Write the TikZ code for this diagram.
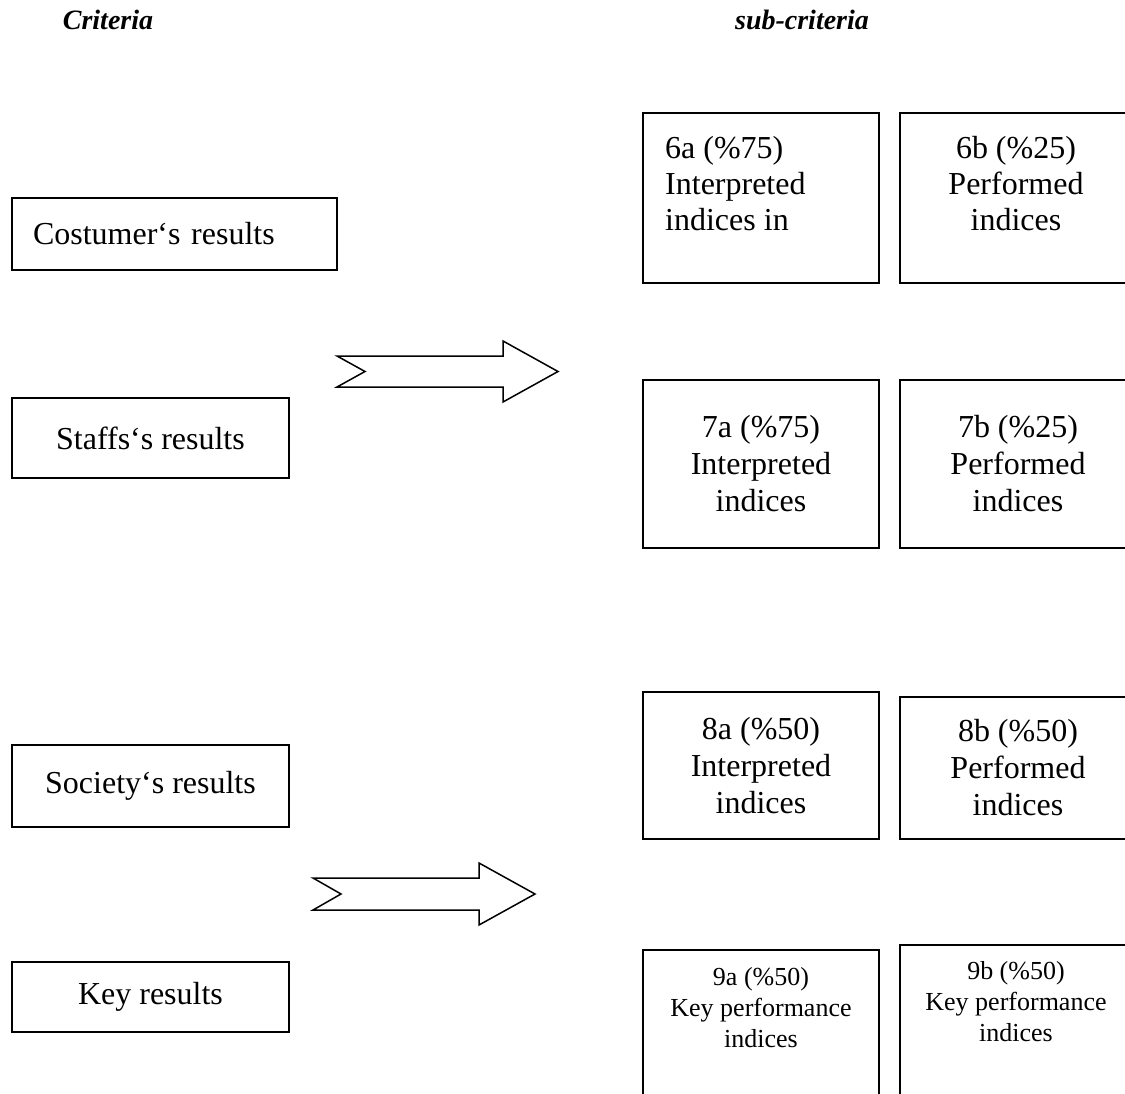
\documentclass[tikz,border=0pt]{standalone}
\usepackage{fontspec}
\setmainfont{Liberation Serif}
\usetikzlibrary{positioning}
\tikzset{
  critbox/.style={draw=black, line width=1.5pt, minimum width=277pt, align=center, font=\fontsize{32}{37}\selectfont},
  subbox/.style={draw=black, line width=1.5pt, minimum width=236pt, align=center, font=\fontsize{32}{37}\selectfont},
  subtext/.style={inner sep=0pt, align=center, font=\fontsize{32}{36}\selectfont},
  smalltext/.style={inner sep=0pt, align=center, font=\fontsize{26}{31}\selectfont},
  heading/.style={inner sep=0pt, font=\fontsize{28}{30}\selectfont\bfseries\itshape},
  blockarrow/.style={draw=black, line width=1.5pt, fill=white, line join=miter}
}

\begin{document}
\begin{tikzpicture}[x=1pt, y=-1pt]
  \useasboundingbox (0,0) rectangle (1125,1094);
  \clip (0,0) rectangle (1125,1094);

  % column headings
  \node[heading] (hcrit) at (108,20) {Criteria};
  \node[heading] (hsub) at (802,20) {sub-criteria};

  % criteria
  \node[critbox, minimum width=325pt, minimum height=72pt, inner xsep=21pt, text width=283pt, align=left] (cust) at (174.5,234) {Costumer‘s results};
  \node[critbox, minimum height=80pt] (staff) at (150.5,438) {Staffs‘s results};
  \node[critbox, minimum height=82pt] (soc) at (150.5,786) {Society‘s results};
  \node[critbox, minimum height=70pt] (key) at (150.5,997) {Key results};

  % sub-criteria
  \node[subbox, minimum height=170pt] (s6a) at (761,198) {};
  \node[subtext, anchor=west, align=left] (t6a) at (665,184) {6a (\%75)\\Interpreted\\indices in};
  \node[subbox, minimum height=170pt] (s6b) at (1018,198) {};
  \node[subtext] (t6b) at (1016,184) {6b (\%25)\\Performed\\indices};

  \node[subbox, minimum height=168pt] (s7a) at (761,464) {7a (\%75)\\Interpreted\\indices};
  \node[subbox, minimum height=168pt] (s7b) at (1018,464) {7b (\%25)\\Performed\\indices};

  \node[subbox, minimum height=147pt] (s8a) at (761,765.5) {8a (\%50)\\Interpreted\\indices};
  \node[subbox, minimum height=142pt] (s8b) at (1018,768) {8b (\%50)\\Performed\\indices};

  \node[subbox, minimum height=170pt] (s9a) at (761,1035) {};
  \node[smalltext] (t9a) at (761,1008) {9a (\%50)\\Key performance\\indices};
  \node[subbox, minimum height=170pt] (s9b) at (1018,1030) {};
  \node[smalltext] (t9b) at (1016,1002) {9b (\%50)\\Key performance\\indices};

  % block arrows
  \draw[blockarrow] (337,356) -- (365,371.5) -- (337,387) -- (503,387) -- (503,402)
    -- (558,371.5) -- (503,341) -- (503,356) -- cycle;
  \draw[blockarrow] (313,878) -- (341,894) -- (313,910) -- (479,910) -- (479,925)
    -- (535,894) -- (479,863) -- (479,878) -- cycle;
\end{tikzpicture}
\end{document}
